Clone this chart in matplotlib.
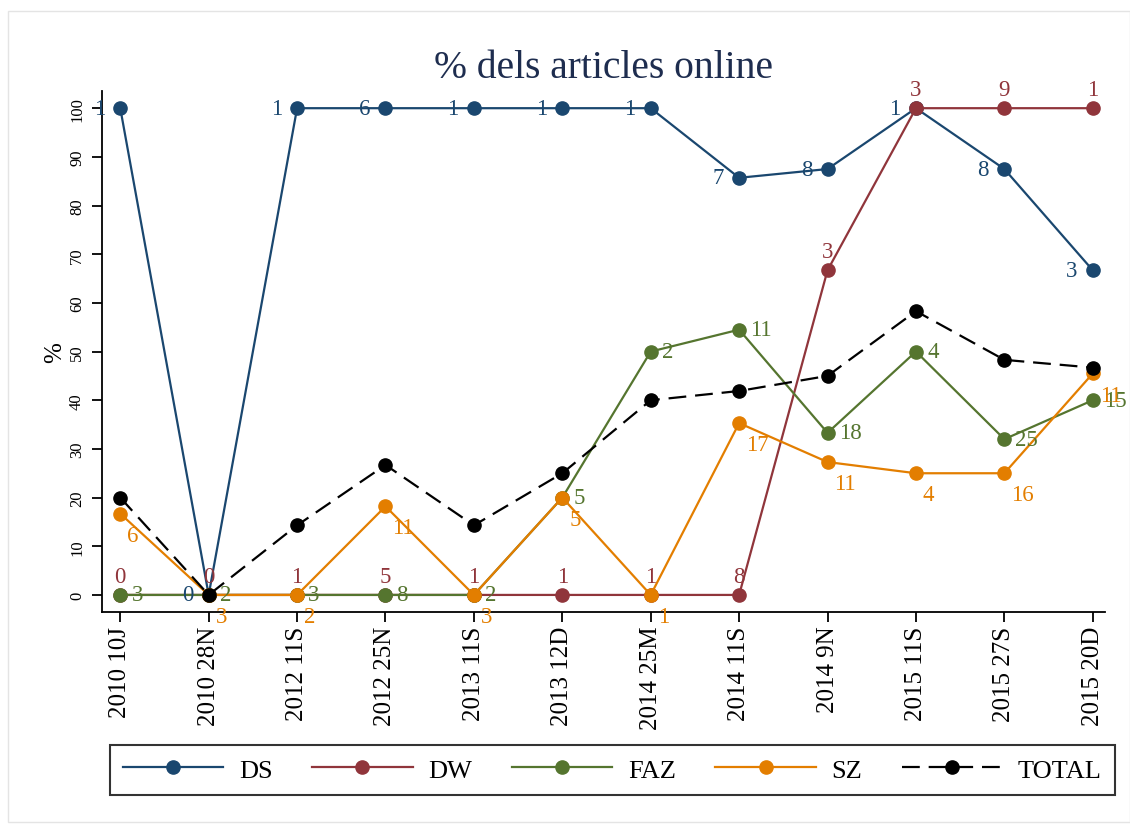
import matplotlib
matplotlib.use('Agg')
import matplotlib.pyplot as plt
from matplotlib.patches import Rectangle

plt.rcParams['font.family'] = ['Liberation Serif', 'DejaVu Serif']

# data
dates = ['2010 10J', '2010 28N', '2012 11S', '2012 25N', '2013 11S', '2013 12D',
         '2014 25M', '2014 11S', '2014 9N', '2015 11S', '2015 27S', '2015 20D']
ds = [100, 0, 100, 100, 100, 100, 100, 85.7, 87.5, 100, 87.5, 66.7]
ds_n = ['1', '0', '1', '6', '1', '1', '1', '7', '8', '1', '8', '3']
dw = [0, 0, 0, 0, 0, 0, 0, 0, 66.7, 100, 100, 100]
dw_n = ['0', '0', '1', '5', '1', '1', '1', '8', '3', '3', '9', '1']
faz = [0, 0, 0, 0, 0, 20, 50, 54.5, 33.3, 50, 32, 40]
faz_n = ['3', '2', '3', '8', '2', '5', '2', '11', '18', '4', '25', '15']
sz = [16.7, 0, 0, 18.2, 0, 20, 0, 35.3, 27.3, 25, 25, 45.5]
sz_n = ['6', '3', '2', '11', '3', '5', '1', '17', '11', '4', '16', '11']
total = [20, 0, 14.3, 26.7, 14.3, 25, 40, 41.9, 45, 58.3, 48.3, 46.7]

c_ds, c_dw, c_faz, c_sz = '#1a476f', '#90353b', '#55752f', '#e37e00'

fig = plt.figure(figsize=(11.3, 8.28), dpi=100)
ax = fig.add_axes([0.090, 0.2597, 0.888, 0.629])
x = list(range(len(dates)))

# outer graph region frame
fig.patches.append(Rectangle((0.007, 0.006), 0.993, 0.98, transform=fig.transFigure,
                             fill=False, edgecolor='#e4e4e4', lw=1))

series = [
    ('DS', ds, ds_n, c_ds, (-11, 0), 'right', 'center'),
    ('DW', dw, dw_n, c_dw, (0, 6), 'center', 'bottom'),
    ('FAZ', faz, faz_n, c_faz, (8, 0), 'left', 'center'),
    ('SZ', sz, sz_n, c_sz, (5, -8), 'left', 'top'),
]
for name, vals, labs, col, off, ha, va in series:
    ax.plot(x, vals, color=col, lw=1.6, marker='o', ms=9.5, label=name, clip_on=False)
    for xi, v, t in zip(x, vals, labs):
        ax.annotate(t, (xi, v), xytext=off, textcoords='offset points',
                    ha=ha, va=va, color=col, fontsize=16.5, annotation_clip=False)

ax.plot(x, total, color='black', lw=1.6, ls=(0, (8, 4)), marker='o', ms=9.5,
        label='TOTAL', clip_on=False)

ax.set_xlim(-0.21, 11.14)
ax.set_ylim(-3.5, 103.5)
ax.set_xticks(x)
ax.set_xticklabels(dates, rotation=90, fontsize=18, va='top', ha='center')
ax.set_yticks(range(0, 101, 10))
ax.set_yticklabels([str(v) for v in range(0, 101, 10)], rotation=90, fontsize=12,
                   va='center')
ax.tick_params(axis='both', length=7, width=1.3, color='black')
ax.tick_params(axis='x', pad=3)
ax.tick_params(axis='y', pad=5)
for s in ['top', 'right']:
    ax.spines[s].set_visible(False)
for s in ['left', 'bottom']:
    ax.spines[s].set_linewidth(1.3)

ax.set_ylabel('%', fontsize=18, labelpad=2)
ax.set_title('% dels articles online', fontsize=28.5, color='#1e2d4f', pad=10)

leg = fig.legend(loc='center', bbox_to_anchor=(0.542, 0.069), ncol=5, fontsize=19,
                 frameon=True, fancybox=False, edgecolor='black', handlelength=3.8,
                 handletextpad=0.6, columnspacing=1.5, markerscale=1.0,
                 borderpad=0.5)
leg.get_frame().set_linewidth(1.5)

fig.savefig('out.png', dpi=100, facecolor='white')
